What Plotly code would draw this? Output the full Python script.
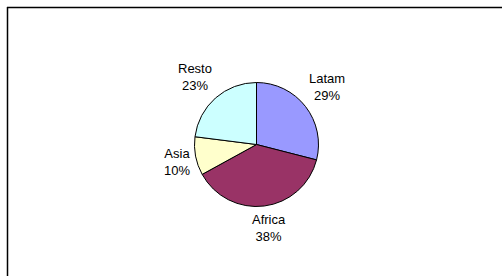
import math
import plotly.graph_objects as go

labels = ["Latam", "Africa", "Asia", "Resto"]
values = [29, 38, 10, 23]
colors = ["#9999FF", "#993366", "#FFFFCC", "#CCFFFF"]

W, H = 502, 276
cx, cy, r = 256.5, 144.5, 62
FONT = "Liberation Sans, Arial, sans-serif"

fig = go.Figure(go.Pie(
    labels=labels, values=values, sort=False, direction="clockwise", rotation=0,
    marker=dict(colors=colors, line=dict(color="#000000", width=1)),
    textinfo="none",
    domain=dict(x=[(cx - r) / W, (cx + r) / W], y=[1 - (cy + r) / H, 1 - (cy - r) / H]),
    showlegend=False, hoverinfo="none",
))

# outside labels placed along each slice's mid-angle (computed from values),
# with the label box's nearest corner just outside the rim
total = sum(values)
annotations = []
cum = 0
hh, gap = 18, 4


def clamp(t):
    return max(-1.0, min(1.0, t))


for lab, v in zip(labels, values):
    mid = (cum + v / 2) / total * 2 * math.pi
    cum += v
    ux, uy = math.sin(mid), -math.cos(mid)
    hw = 3.4 * len(lab) + 1
    px = cx + (r + gap) * ux + hw * clamp(1.5 * ux)
    py = cy + (r + gap) * uy + hh * clamp(1.5 * uy)
    pct = round(v / total * 100)
    annotations.append(dict(
        x=px / W, y=1 - py / H, xref="paper", yref="paper",
        text=f"{lab}<br>{pct}%", showarrow=False,
        xanchor="center", yanchor="middle", align="center",
        font=dict(family=FONT, size=13, color="#000000"),
    ))

fig.update_layout(
    width=W, height=H, margin=dict(l=0, r=0, t=0, b=0),
    paper_bgcolor="white", plot_bgcolor="white",
    font=dict(family=FONT, size=13, color="#000000"),
    annotations=annotations,
    shapes=[
        dict(type="line", xref="paper", yref="paper", x0=7 / W, x1=1.1, y0=1 - 7.5 / H, y1=1 - 7.5 / H,
             line=dict(color="#000000", width=1.5)),
        dict(type="line", xref="paper", yref="paper", x0=7.5 / W, x1=7.5 / W, y0=1 - 7 / H, y1=-0.1,
             line=dict(color="#000000", width=1.5)),
    ],
)

fig.write_html("out.html", config={"displayModeBar": False},
               post_script="document.body.style.margin='0';document.body.style.overflow='hidden';")
